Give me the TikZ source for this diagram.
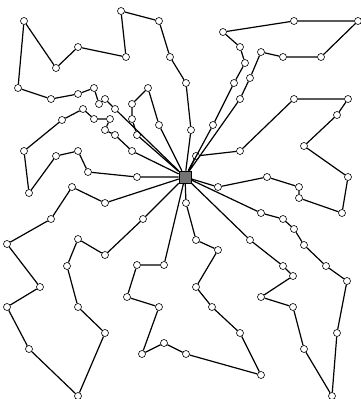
\documentclass[tikz,border=0pt]{standalone}
\usepackage{tikz}
\usetikzlibrary{arrows.meta,positioning}

\begin{document}
\begin{tikzpicture}[x=1pt,y=-1pt,
  cust/.style={circle,draw=black,fill=white,line width=.6pt,inner sep=0pt,minimum size=7pt},
  depot/.style={rectangle,draw=black,fill=black!55,line width=.6pt,inner sep=0pt,minimum size=12pt},
  route/.style={line width=1.2pt,black}]
\useasboundingbox (0,0) rectangle (361,399);
\clip (0,0) rectangle (361,399);
\node[depot] (dep) at (185,177) {};
% route a
\node[cust] (a1) at (191,130) {};
\node[cust] (a2) at (186,83) {};
\node[cust] (a3) at (170,57) {};
\node[cust] (a4) at (159,21) {};
\node[cust] (a5) at (121,11) {};
\node[cust] (a6) at (126,57) {};
\node[cust] (a7) at (78,47) {};
\node[cust] (a8) at (56,68) {};
\node[cust] (a9) at (24,21) {};
\node[cust] (a10) at (18,88) {};
\node[cust] (a11) at (51,99) {};
\node[cust] (a12) at (78,94) {};
\node[cust] (a13) at (94,88) {};
\node[cust] (a14) at (99,104) {};
\node[cust] (a15) at (105,99) {};
\node[cust] (a16) at (115,109) {};
% route b
\node[cust] (b1) at (159,125) {};
\node[cust] (b2) at (148,88) {};
\node[cust] (b3) at (132,104) {};
\node[cust] (b4) at (132,119) {};
\node[cust] (b5) at (137,135) {};
% route c
\node[cust] (c1) at (132,151) {};
\node[cust] (c2) at (115,135) {};
\node[cust] (c3) at (105,130) {};
\node[cust] (c4) at (110,119) {};
\node[cust] (c5) at (94,119) {};
\node[cust] (c6) at (83,109) {};
\node[cust] (c7) at (62,120) {};
\node[cust] (c8) at (24,151) {};
\node[cust] (c9) at (29,193) {};
\node[cust] (c10) at (56,156) {};
\node[cust] (c11) at (78,151) {};
\node[cust] (c12) at (88,172) {};
\node[cust] (c13) at (137,177) {};
% route d
\node[cust] (d1) at (213,125) {};
\node[cust] (d2) at (234,83) {};
\node[cust] (d3) at (245,63) {};
\node[cust] (d4) at (240,47) {};
\node[cust] (d5) at (223,32) {};
\node[cust] (d6) at (294,21) {};
\node[cust] (d7) at (358,21) {};
\node[cust] (d8) at (321,57) {};
\node[cust] (d9) at (283,57) {};
\node[cust] (d10) at (261,52) {};
\node[cust] (d11) at (250,78) {};
\node[cust] (d12) at (240,99) {};
% route e
\node[cust] (e1) at (196,156) {};
\node[cust] (e2) at (240,151) {};
\node[cust] (e3) at (294,99) {};
\node[cust] (e4) at (348,99) {};
\node[cust] (e5) at (337,115) {};
\node[cust] (e6) at (304,146) {};
\node[cust] (e7) at (348,177) {};
\node[cust] (e8) at (342,213) {};
\node[cust] (e9) at (299,198) {};
\node[cust] (e10) at (299,187) {};
\node[cust] (e11) at (267,177) {};
\node[cust] (e12) at (218,187) {};
% route f
\node[cust] (f1) at (186,203) {};
\node[cust] (f2) at (196,240) {};
\node[cust] (f3) at (218,250) {};
\node[cust] (f4) at (196,287) {};
\node[cust] (f5) at (212,307) {};
\node[cust] (f6) at (240,333) {};
\node[cust] (f7) at (261,375) {};
\node[cust] (f8) at (186,354) {};
\node[cust] (f9) at (164,343) {};
\node[cust] (f10) at (142,354) {};
\node[cust] (f11) at (159,307) {};
\node[cust] (f12) at (127,297) {};
\node[cust] (f13) at (137,265) {};
\node[cust] (f14) at (164,265) {};
% route g
\node[cust] (g1) at (261,213) {};
\node[cust] (g2) at (283,219) {};
\node[cust] (g3) at (294,229) {};
\node[cust] (g4) at (304,245) {};
\node[cust] (g5) at (326,266) {};
\node[cust] (g6) at (347,281) {};
\node[cust] (g7) at (337,333) {};
\node[cust] (g8) at (332,396) {};
\node[cust] (g9) at (304,349) {};
\node[cust] (g10) at (293,307) {};
\node[cust] (g11) at (261,297) {};
\node[cust] (g12) at (293,276) {};
\node[cust] (g13) at (283,266) {};
\node[cust] (g14) at (250,240) {};
% route h
\node[cust] (h1) at (105,203) {};
\node[cust] (h2) at (72,187) {};
\node[cust] (h3) at (51,219) {};
\node[cust] (h4) at (7,244) {};
\node[cust] (h5) at (40,287) {};
\node[cust] (h6) at (7,307) {};
\node[cust] (h7) at (29,349) {};
\node[cust] (h8) at (78,396) {};
\node[cust] (h9) at (105,333) {};
\node[cust] (h10) at (78,307) {};
\node[cust] (h11) at (67,266) {};
\node[cust] (h12) at (78,239) {};
\node[cust] (h13) at (105,255) {};
\node[cust] (h14) at (143,219) {};
\draw[route] (dep)--(a1)--(a2)--(a3)--(a4)--(a5)--(a6)--(a7)--(a8)--(a9)--(a10)--(a11)--(a12)--(a13)--(a14)--(a15)--(a16)--(dep);
\draw[route] (dep)--(b1)--(b2)--(b3)--(b4)--(b5)--(dep);
\draw[route] (dep)--(c1)--(c2)--(c3)--(c4)--(c5)--(c6)--(c7)--(c8)--(c9)--(c10)--(c11)--(c12)--(c13)--(dep);
\draw[route] (dep)--(d1)--(d2)--(d3)--(d4)--(d5)--(d6)--(d7)--(d8)--(d9)--(d10)--(d11)--(d12)--(dep);
\draw[route] (dep)--(e1)--(e2)--(e3)--(e4)--(e5)--(e6)--(e7)--(e8)--(e9)--(e10)--(e11)--(e12)--(dep);
\draw[route] (dep)--(f1)--(f2)--(f3)--(f4)--(f5)--(f6)--(f7)--(f8)--(f9)--(f10)--(f11)--(f12)--(f13)--(f14)--(dep);
\draw[route] (dep)--(g1)--(g2)--(g3)--(g4)--(g5)--(g6)--(g7)--(g8)--(g9)--(g10)--(g11)--(g12)--(g13)--(g14)--(dep);
\draw[route] (dep)--(h1)--(h2)--(h3)--(h4)--(h5)--(h6)--(h7)--(h8)--(h9)--(h10)--(h11)--(h12)--(h13)--(h14)--(dep);
\end{tikzpicture}
\end{document}
